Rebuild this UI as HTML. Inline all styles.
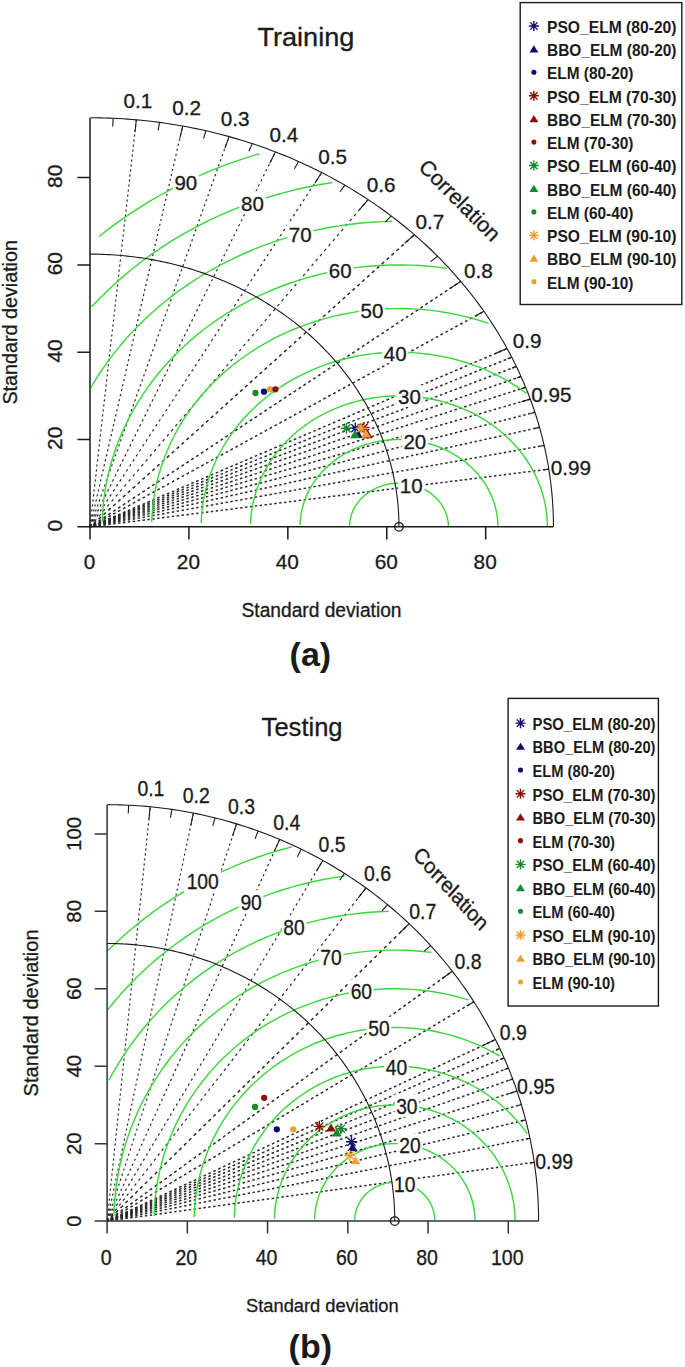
<!DOCTYPE html>
<html><head><meta charset="utf-8"><title>Taylor diagrams</title>
<style>
html,body{margin:0;padding:0;background:#fff;}
body{width:685px;height:1367px;overflow:hidden;}
svg{display:block;font-family:"Liberation Sans", sans-serif;}
text:not([font-weight]){stroke:#1a1a1a;stroke-width:0.3px;}
</style></head><body>
<svg width="685" height="1367" viewBox="0 0 685 1367" fill="#1a1a1a">
<path d="M90 526.85L136.34 119.81" stroke="#2a2a2a" stroke-width="1.2" stroke-dasharray="2.11 2.92" stroke-dashoffset="4.63" fill="none"/>
<path d="M90 526.85L182.69 126.02" stroke="#2a2a2a" stroke-width="1.2" stroke-dasharray="2.16 2.98" stroke-dashoffset="4.72" fill="none"/>
<path d="M90 526.85L229.03 136.6" stroke="#2a2a2a" stroke-width="1.2" stroke-dasharray="2.23 3.08" stroke-dashoffset="4.88" fill="none"/>
<path d="M90 526.85L275.38 151.91" stroke="#2a2a2a" stroke-width="1.2" stroke-dasharray="2.34 3.24" stroke-dashoffset="5.13" fill="none"/>
<path d="M90 526.85L321.72 172.56" stroke="#2a2a2a" stroke-width="1.2" stroke-dasharray="2.51 3.47" stroke-dashoffset="5.5" fill="none"/>
<path d="M90 526.85L368.06 199.57" stroke="#2a2a2a" stroke-width="1.2" stroke-dasharray="2.76 3.81" stroke-dashoffset="6.04" fill="none"/>
<path d="M90 526.85L414.41 234.7" stroke="#2a2a2a" stroke-width="1.5" stroke-dasharray="3.23 3.34" stroke-dashoffset="1.61" fill="none"/>
<path d="M90 526.85L460.75 281.39" stroke="#2a2a2a" stroke-width="1.5" stroke-dasharray="2.88 2.97" stroke-dashoffset="1.44" fill="none"/>
<path d="M90 526.85L507.1 348.53" stroke="#2a2a2a" stroke-width="1.5" stroke-dasharray="2.61 2.7" stroke-dashoffset="1.31" fill="none"/>
<path d="M90 526.85L483.92 311.35" stroke="#2a2a2a" stroke-width="1.5" stroke-dasharray="2.74 2.83" stroke-dashoffset="1.37" fill="none"/>
<path d="M90 526.85L511.73 357.24" stroke="#2a2a2a" stroke-width="1.5" stroke-dasharray="2.59 2.67" stroke-dashoffset="1.29" fill="none"/>
<path d="M90 526.85L516.36 366.52" stroke="#2a2a2a" stroke-width="1.5" stroke-dasharray="2.56 2.65" stroke-dashoffset="1.28" fill="none"/>
<path d="M90 526.85L521 376.48" stroke="#2a2a2a" stroke-width="1.5" stroke-dasharray="2.54 2.63" stroke-dashoffset="1.27" fill="none"/>
<path d="M90 526.85L525.63 387.28" stroke="#2a2a2a" stroke-width="1.5" stroke-dasharray="2.52 2.6" stroke-dashoffset="1.26" fill="none"/>
<path d="M90 526.85L530.27 399.11" stroke="#2a2a2a" stroke-width="1.5" stroke-dasharray="2.5 2.58" stroke-dashoffset="1.25" fill="none"/>
<path d="M90 526.85L534.9 412.3" stroke="#2a2a2a" stroke-width="1.5" stroke-dasharray="2.48 2.56" stroke-dashoffset="1.24" fill="none"/>
<path d="M90 526.85L539.54 427.4" stroke="#2a2a2a" stroke-width="1.5" stroke-dasharray="2.46 2.54" stroke-dashoffset="1.23" fill="none"/>
<path d="M90 526.85L544.17 445.44" stroke="#2a2a2a" stroke-width="1.5" stroke-dasharray="2.44 2.52" stroke-dashoffset="1.22" fill="none"/>
<path d="M90 526.85L548.81 469.14" stroke="#2a2a2a" stroke-width="1.5" stroke-dasharray="2.42 2.5" stroke-dashoffset="1.21" fill="none"/>
<path d="M448.44 526.85 L448.41 525.54 L448.35 524.23 L448.24 522.93 L448.08 521.62 L447.88 520.33 L447.64 519.03 L447.35 517.75 L447.02 516.47 L446.64 515.2 L446.23 513.95 L445.77 512.7 L445.27 511.47 L444.72 510.25 L444.14 509.05 L443.51 507.86 L442.85 506.69 L442.14 505.54 L441.4 504.4 L440.62 503.29 L439.8 502.2 L438.94 501.13 L438.05 500.08 L437.12 499.06 L436.16 498.06 L435.17 497.09 L434.14 496.14 L433.08 495.23 L431.99 494.34 L430.87 493.48 L429.72 492.65 L428.55 491.85 L427.34 491.08 L426.11 490.35 L424.86 489.65 L423.59 488.98 L422.29 488.34 L420.97 487.74 L419.63 487.18 L418.27 486.65 L416.9 486.16 L415.51 485.7 L414.1 485.28 L412.68 484.9 L411.25 484.56 L409.81 484.25 L408.36 483.98 L406.9 483.75 L405.43 483.56 L403.95 483.41 L402.48 483.3 L400.99 483.23 L399.51 483.19 L398.03 483.2 L396.54 483.24 L395.06 483.33 L393.59 483.45 L392.11 483.61 L390.65 483.81 L389.19 484.05 L387.74 484.33 L386.3 484.65 L384.87 485 L383.46 485.4 L382.05 485.83 L380.67 486.29 L379.3 486.79 L377.95 487.33 L376.61 487.91 L375.3 488.52 L374.01 489.16 L372.74 489.84 L371.49 490.55 L370.27 491.3 L369.08 492.07 L367.91 492.88 L366.77 493.72 L365.66 494.59 L364.57 495.48 L363.52 496.41 L362.51 497.36 L361.52 498.34 L360.57 499.34 L359.65 500.37 L358.77 501.43 L357.92 502.5 L357.11 503.6 L356.34 504.72 L355.61 505.86 L354.92 507.02 L354.26 508.19 L353.65 509.38 L353.07 510.59 L352.54 511.81 L352.05 513.05 L351.6 514.3 L351.2 515.56 L350.84 516.83 L350.52 518.11 L350.24 519.39 L350.01 520.69 L349.82 521.99 L349.68 523.29 L349.58 524.6 L349.53 525.91" stroke="#38d838" stroke-width="1.4" fill="none"/>
<path d="M497.9 526.85 L497.85 524.23 L497.72 521.61 L497.5 519 L497.19 516.4 L496.79 513.8 L496.3 511.22 L495.72 508.65 L495.06 506.09 L494.31 503.56 L493.48 501.05 L492.56 498.55 L491.56 496.09 L490.47 493.65 L489.3 491.24 L488.05 488.87 L486.72 486.53 L485.31 484.22 L483.82 481.96 L482.26 479.73 L480.62 477.55 L478.91 475.41 L477.12 473.31 L475.27 471.27 L473.35 469.27 L471.36 467.33 L469.3 465.44 L467.18 463.61 L465 461.83 L462.76 460.11 L460.47 458.45 L458.11 456.85 L455.71 455.32 L453.25 453.85 L450.75 452.44 L448.2 451.11 L445.6 449.84 L442.96 448.64 L440.29 447.51 L437.57 446.45 L434.82 445.46 L432.04 444.55 L429.23 443.71 L426.39 442.95 L423.53 442.26 L420.64 441.65 L417.74 441.11 L414.81 440.66 L411.88 440.28 L408.93 439.97 L405.97 439.75 L403.01 439.6 L400.04 439.54 L397.08 439.55 L394.11 439.64 L391.15 439.8 L388.2 440.05 L385.25 440.37 L382.32 440.78 L379.4 441.26 L376.5 441.81 L373.62 442.45 L370.77 443.16 L367.93 443.94 L365.13 444.8 L362.36 445.73 L359.62 446.74 L356.91 447.82 L354.25 448.97 L351.62 450.19 L349.04 451.47 L346.5 452.83 L344.01 454.25 L341.56 455.74 L339.17 457.29 L336.84 458.91 L334.56 460.58 L332.33 462.32 L330.17 464.11 L328.07 465.96 L326.03 467.87 L324.06 469.83 L322.16 471.84 L320.32 473.89 L318.56 476 L316.87 478.15 L315.25 480.35 L313.71 482.59 L312.24 484.86 L310.85 487.18 L309.55 489.53 L308.32 491.92 L307.17 494.33 L306.11 496.78 L305.13 499.25 L304.23 501.75 L303.42 504.27 L302.7 506.81 L302.06 509.37 L301.51 511.94 L301.05 514.53 L300.67 517.13 L300.39 519.73 L300.19 522.35 L300.08 524.96" stroke="#38d838" stroke-width="1.4" fill="none"/>
<path d="M547.36 526.85 L547.29 522.92 L547.09 519 L546.76 515.08 L546.29 511.17 L545.69 507.28 L544.96 503.4 L544.1 499.55 L543.1 495.72 L541.98 491.91 L540.73 488.14 L539.35 484.41 L537.84 480.71 L536.21 477.05 L534.46 473.44 L532.58 469.88 L530.59 466.37 L528.47 462.91 L526.24 459.51 L523.9 456.17 L521.44 452.89 L518.87 449.68 L516.2 446.54 L513.41 443.48 L510.53 440.48 L507.54 437.57 L504.46 434.73 L501.28 431.98 L498.01 429.32 L494.66 426.74 L491.21 424.25 L487.68 421.85 L484.08 419.55 L480.39 417.35 L476.63 415.24 L472.81 413.23 L468.91 411.33 L464.96 409.53 L460.94 407.84 L456.87 406.25 L452.74 404.77 L448.57 403.4 L444.35 402.15 L440.1 401 L435.8 399.97 L431.47 399.05 L427.12 398.25 L422.73 397.56 L418.33 396.99 L413.91 396.53 L409.47 396.2 L405.03 395.98 L400.58 395.88 L396.13 395.89 L391.68 396.03 L387.24 396.28 L382.81 396.65 L378.39 397.14 L373.99 397.74 L369.61 398.46 L365.26 399.3 L360.95 400.25 L356.66 401.31 L352.41 402.49 L348.21 403.78 L344.05 405.17 L339.94 406.68 L335.88 408.3 L331.88 410.03 L327.94 411.85 L324.07 413.79 L320.26 415.82 L316.52 417.96 L312.86 420.19 L309.27 422.52 L305.77 424.94 L302.35 427.45 L299.01 430.06 L295.77 432.75 L292.62 435.52 L289.56 438.38 L286.61 441.31 L283.75 444.33 L281 447.42 L278.35 450.58 L275.81 453.8 L273.39 457.1 L271.07 460.46 L268.87 463.87 L266.79 467.35 L264.83 470.87 L262.99 474.45 L261.27 478.07 L259.67 481.74 L258.2 485.45 L256.86 489.2 L255.64 492.98 L254.56 496.79 L253.6 500.62 L252.78 504.48 L252.08 508.37 L251.52 512.26 L251.09 516.17 L250.79 520.1 L250.63 524.02" stroke="#38d838" stroke-width="1.4" fill="none"/>
<path d="M526.55 393.37 L521.96 390.05 L517.25 386.86 L512.44 383.79 L507.53 380.85 L502.52 378.04 L497.42 375.36 L492.22 372.82 L486.95 370.43 L481.59 368.17 L476.16 366.05 L470.67 364.08 L465.1 362.25 L459.48 360.58 L453.8 359.05 L448.08 357.67 L442.3 356.45 L436.5 355.38 L430.65 354.46 L424.78 353.7 L418.88 353.1 L412.97 352.65 L407.05 352.36 L401.11 352.22 L395.18 352.24 L389.25 352.42 L383.32 352.76 L377.41 353.25 L371.53 353.9 L365.66 354.7 L359.83 355.66 L354.03 356.78 L348.27 358.04 L342.55 359.46 L336.89 361.03 L331.29 362.75 L325.74 364.62 L320.26 366.63 L314.85 368.78 L309.52 371.08 L304.27 373.52 L299.1 376.1 L294.02 378.81 L289.04 381.66 L284.15 384.63 L279.37 387.74 L274.7 390.97 L270.14 394.32 L265.69 397.79 L261.37 401.38 L257.16 405.08 L253.09 408.89 L249.15 412.8 L245.34 416.82 L241.67 420.94 L238.14 425.15 L234.76 429.46 L231.52 433.85 L228.44 438.32 L225.51 442.88 L222.73 447.51 L220.11 452.21 L217.66 456.98 L215.37 461.81 L213.24 466.71 L211.28 471.65 L209.49 476.64 L207.87 481.68 L206.42 486.77 L205.14 491.88 L204.04 497.03 L203.12 502.2 L202.37 507.4 L201.79 512.62 L201.4 517.84 L201.18 523.08" stroke="#38d838" stroke-width="1.4" fill="none"/>
<path d="M488.59 323.39 L481.63 321.1 L474.61 319.01 L467.51 317.1 L460.35 315.38 L453.14 313.85 L445.87 312.51 L438.57 311.37 L431.23 310.41 L423.86 309.66 L416.47 309.1 L409.06 308.73 L401.65 308.56 L394.23 308.59 L386.81 308.81 L379.41 309.23 L372.02 309.85 L364.66 310.66 L357.33 311.67 L350.04 312.87 L342.79 314.26 L335.59 315.84 L328.45 317.62 L321.37 319.58 L314.36 321.73 L307.43 324.06 L300.58 326.57 L293.82 329.27 L287.15 332.14 L280.59 335.19 L274.13 338.41 L267.78 341.8 L261.55 345.36 L255.45 349.08 L249.47 352.96 L243.63 357 L237.93 361.19 L232.37 365.53 L226.96 370.01 L221.71 374.63 L216.62 379.4 L211.69 384.29 L206.93 389.31 L202.34 394.46 L197.93 399.73 L193.7 405.11 L189.66 410.6 L185.8 416.19 L182.14 421.89 L178.67 427.68 L175.4 433.55 L172.33 439.51 L169.46 445.56 L166.81 451.67 L164.35 457.85 L162.12 464.09 L160.09 470.39 L158.28 476.74 L156.68 483.14 L155.31 489.57 L154.15 496.04 L153.21 502.54 L152.5 509.06 L152.01 515.59 L151.73 522.14" stroke="#38d838" stroke-width="1.4" fill="none"/>
<path d="M446.49 268.27 L437.68 267.13 L428.84 266.22 L419.97 265.55 L411.08 265.11 L402.18 264.91 L393.28 264.94 L384.38 265.21 L375.5 265.71 L366.63 266.45 L357.8 267.42 L349 268.63 L340.25 270.07 L331.55 271.74 L322.91 273.64 L314.34 275.77 L305.85 278.12 L297.44 280.7 L289.12 283.5 L280.9 286.52 L272.79 289.75 L264.79 293.2 L256.91 296.86 L249.16 300.72 L241.54 304.79 L234.07 309.06 L226.74 313.53 L219.57 318.18 L212.56 323.03 L205.72 328.05 L199.05 333.26 L192.56 338.64 L186.26 344.19 L180.15 349.91 L174.23 355.78 L168.52 361.81 L163.02 367.98 L157.72 374.3 L152.65 380.76 L147.8 387.35 L143.17 394.06 L138.77 400.89 L134.61 407.84 L130.68 414.89 L127 422.05 L123.56 429.3 L120.37 436.63 L117.43 444.05 L114.74 451.54 L112.31 459.1 L110.14 466.72 L108.23 474.4 L106.57 482.12 L105.19 489.88 L104.06 497.68 L103.2 505.5 L102.61 513.34 L102.29 521.19" stroke="#38d838" stroke-width="1.4" fill="none"/>
<path d="M392.33 221.29 L381.95 221.6 L371.58 222.19 L361.24 223.05 L350.94 224.19 L340.67 225.59 L330.46 227.27 L320.31 229.22 L310.24 231.44 L300.24 233.92 L290.33 236.67 L280.52 239.68 L270.81 242.94 L261.22 246.46 L251.76 250.24 L242.42 254.26 L233.23 258.53 L224.19 263.04 L215.3 267.78 L206.58 272.76 L198.04 277.97 L189.67 283.4 L181.49 289.06 L173.51 294.92 L165.73 301 L158.16 307.27 L150.81 313.75 L143.68 320.41 L136.78 327.27 L130.11 334.3 L123.69 341.51 L117.52 348.88 L111.6 356.41 L105.93 364.1 L100.53 371.93 L95.4 379.9 L90.55 388.01" stroke="#38d838" stroke-width="1.4" fill="none"/>
<path d="M332.35 182.56 L320.68 184.48 L309.08 186.7 L297.56 189.24 L286.13 192.08 L274.81 195.21 L263.59 198.65 L252.5 202.38 L241.54 206.41 L230.73 210.72 L220.06 215.32 L209.55 220.19 L199.22 225.35 L189.06 230.77 L179.1 236.46 L169.33 242.42 L159.77 248.63 L150.42 255.08 L141.3 261.79 L132.41 268.73 L123.76 275.9 L115.35 283.3 L107.2 290.92 L99.32 298.76 L91.7 306.79" stroke="#38d838" stroke-width="1.4" fill="none"/>
<path d="M259.29 153.76 L246.67 157.63 L234.19 161.82 L221.86 166.35 L209.69 171.2 L197.69 176.38 L185.88 181.86 L174.25 187.66 L162.82 193.76 L151.61 200.17 L140.62 206.86 L129.87 213.85 L119.35 221.11 L109.09 228.66 L99.09 236.47" stroke="#38d838" stroke-width="1.4" fill="none"/>
<rect x="398.14" y="473.7" width="26.22" height="21.71" fill="#fff"/>
<text x="0" y="0" font-size="20.5" text-anchor="middle" transform="translate(411.25 492.83)">10</text>
<rect x="401.71" y="429.8" width="26.22" height="21.71" fill="#fff"/>
<text x="0" y="0" font-size="20.5" text-anchor="middle" transform="translate(414.81 448.93)">20</text>
<rect x="396.36" y="385.34" width="26.22" height="21.71" fill="#fff"/>
<text x="0" y="0" font-size="20.5" text-anchor="middle" transform="translate(409.47 404.48)">30</text>
<rect x="382.07" y="341.39" width="26.22" height="21.71" fill="#fff"/>
<text x="0" y="0" font-size="20.5" text-anchor="middle" transform="translate(395.18 360.52)">40</text>
<rect x="358.92" y="298.99" width="26.22" height="21.71" fill="#fff"/>
<text x="0" y="0" font-size="20.5" text-anchor="middle" transform="translate(372.02 318.13)">50</text>
<rect x="327.14" y="259.21" width="26.22" height="21.71" fill="#fff"/>
<text x="0" y="0" font-size="20.5" text-anchor="middle" transform="translate(340.25 278.35)">60</text>
<rect x="287.13" y="223.07" width="26.22" height="21.71" fill="#fff"/>
<text x="0" y="0" font-size="20.5" text-anchor="middle" transform="translate(300.24 242.2)">70</text>
<rect x="239.4" y="191.53" width="26.22" height="21.71" fill="#fff"/>
<text x="0" y="0" font-size="20.5" text-anchor="middle" transform="translate(252.5 210.66)">80</text>
<rect x="172.77" y="171.01" width="26.22" height="21.71" fill="#fff"/>
<text x="0" y="0" font-size="20.5" text-anchor="middle" transform="translate(185.88 190.14)">90</text>
<path d="M90 117.76L90 526.85L553.44 526.85" stroke="#1a1a1a" stroke-width="1.5" fill="none"/>
<path d="M90 526.85L90 539.45M90 526.85L77.4 526.85M188.92 526.85L188.92 539.45M90 439.53L77.4 439.53M287.84 526.85L287.84 539.45M90 352.21L77.4 352.21M386.76 526.85L386.76 539.45M90 264.89L77.4 264.89M485.68 526.85L485.68 539.45M90 177.57L77.4 177.57" stroke="#1a1a1a" stroke-width="1.5" fill="none"/>
<text x="0" y="0" font-size="20.8" text-anchor="middle" transform="translate(89.5 569.4)">0</text>
<text x="0" y="0" font-size="20.8" text-anchor="middle" transform="translate(61.6 525.65) rotate(-90)">0</text>
<text x="0" y="0" font-size="20.8" text-anchor="middle" transform="translate(188.42 569.4)">20</text>
<text x="0" y="0" font-size="20.8" text-anchor="middle" transform="translate(61.6 438.33) rotate(-90)">20</text>
<text x="0" y="0" font-size="20.8" text-anchor="middle" transform="translate(287.34 569.4)">40</text>
<text x="0" y="0" font-size="20.8" text-anchor="middle" transform="translate(61.6 351.01) rotate(-90)">40</text>
<text x="0" y="0" font-size="20.8" text-anchor="middle" transform="translate(386.26 569.4)">60</text>
<text x="0" y="0" font-size="20.8" text-anchor="middle" transform="translate(61.6 263.69) rotate(-90)">60</text>
<text x="0" y="0" font-size="20.8" text-anchor="middle" transform="translate(485.18 569.4)">80</text>
<text x="0" y="0" font-size="20.8" text-anchor="middle" transform="translate(61.6 176.37) rotate(-90)">80</text>
<path d="M553.44 526.85 L553.42 522.76 L553.35 518.67 L553.23 514.58 L553.07 510.49 L552.86 506.4 L552.61 502.32 L552.31 498.24 L551.96 494.16 L551.56 490.08 L551.12 486.01 L550.64 481.94 L550.11 477.88 L549.53 473.82 L548.91 469.76 L548.24 465.72 L547.52 461.67 L546.76 457.64 L545.95 453.61 L545.1 449.59 L544.2 445.58 L543.26 441.57 L542.27 437.57 L541.24 433.59 L540.16 429.61 L539.03 425.64 L537.86 421.68 L536.65 417.73 L535.39 413.79 L534.09 409.87 L532.74 405.95 L531.35 402.05 L529.91 398.16 L528.43 394.29 L526.91 390.42 L525.34 386.57 L523.73 382.74 L522.08 378.92 L520.38 375.11 L518.64 371.32 L516.86 367.54 L515.03 363.78 L513.16 360.04 L511.25 356.31 L509.3 352.6 L507.3 348.91 L505.27 345.23 L503.19 341.58 L501.07 337.94 L498.91 334.32 L496.71 330.72 L494.46 327.14 L492.18 323.58 L489.86 320.04 L487.5 316.52 L485.09 313.02 L482.65 309.54 L480.17 306.09 L477.65 302.66 L475.09 299.25 L472.49 295.86 L469.86 292.49 L467.18 289.15 L464.47 285.83 L461.72 282.54 L458.94 279.27 L456.11 276.03 L453.25 272.81 L450.36 269.61 L447.43 266.45 L444.46 263.3 L441.46 260.19 L438.42 257.1 L435.34 254.04 L432.24 251 L429.09 248 L425.92 245.02 L422.71 242.07 L419.47 239.14 L416.19 236.25 L412.88 233.38 L409.54 230.55 L406.17 227.74 L402.76 224.97 L399.33 222.22 L395.86 219.51 L392.37 216.82 L388.84 214.17 L385.28 211.55 L381.69 208.95 L378.08 206.4 L374.43 203.87 L370.76 201.37 L367.06 198.91 L363.33 196.48 L359.58 194.09 L355.79 191.72 L351.98 189.39 L348.15 187.1 L344.28 184.84 L340.4 182.61 L336.49 180.42 L332.55 178.26 L328.59 176.13 L324.6 174.05 L320.59 171.99 L316.56 169.97 L312.51 167.99 L308.43 166.05 L304.33 164.14 L300.21 162.26 L296.07 160.42 L291.91 158.62 L287.73 156.86 L283.53 155.13 L279.31 153.44 L275.07 151.79 L270.81 150.18 L266.54 148.6 L262.24 147.06 L257.93 145.56 L253.6 144.09 L249.26 142.67 L244.9 141.28 L240.52 139.94 L236.13 138.63 L231.73 137.36 L227.31 136.12 L222.88 134.93 L218.43 133.78 L213.97 132.66 L209.5 131.59 L205.01 130.55 L200.52 129.56 L196.01 128.6 L191.5 127.69 L186.97 126.81 L182.43 125.98 L177.89 125.18 L173.33 124.42 L168.77 123.71 L164.2 123.03 L159.62 122.4 L155.04 121.8 L150.44 121.25 L145.85 120.74 L141.24 120.26 L136.63 119.83 L132.02 119.44 L127.4 119.09 L122.78 118.78 L118.16 118.51 L113.53 118.28 L108.9 118.1 L104.27 117.95 L99.64 117.84 L95 117.78 L90.37 117.76" stroke="#1a1a1a" stroke-width="1.1" fill="none"/>
<path d="M398.98 526.85 L398.96 524.12 L398.91 521.4 L398.84 518.67 L398.73 515.94 L398.59 513.22 L398.42 510.5 L398.22 507.77 L397.99 505.05 L397.73 502.34 L397.43 499.62 L397.11 496.91 L396.75 494.2 L396.37 491.49 L395.95 488.79 L395.51 486.09 L395.03 483.4 L394.52 480.71 L393.98 478.02 L393.42 475.34 L392.82 472.66 L392.19 469.99 L391.53 467.33 L390.84 464.67 L390.12 462.02 L389.37 459.37 L388.59 456.73 L387.78 454.1 L386.94 451.48 L386.07 448.86 L385.18 446.25 L384.25 443.65 L383.29 441.05 L382.3 438.47 L381.29 435.89 L380.24 433.33 L379.17 430.77 L378.07 428.22 L376.94 425.68 L375.78 423.16 L374.59 420.64 L373.37 418.13 L372.12 415.64 L370.85 413.15 L369.55 410.68 L368.22 408.22 L366.86 405.77 L365.47 403.33 L364.06 400.9 L362.62 398.49 L361.15 396.09 L359.66 393.7 L358.14 391.33 L356.59 388.97 L355.01 386.62 L353.41 384.29 L351.78 381.97 L350.13 379.67 L348.45 377.38 L346.74 375.11 L345.01 372.85 L343.25 370.6 L341.47 368.38 L339.66 366.16 L337.83 363.97 L335.97 361.79 L334.09 359.63 L332.18 357.48 L330.25 355.35 L328.3 353.24 L326.32 351.14 L324.32 349.07 L322.29 347.01 L320.24 344.97 L318.17 342.94 L316.07 340.94 L313.96 338.95 L311.82 336.98 L309.66 335.03 L307.47 333.11 L305.27 331.2 L303.04 329.31 L300.79 327.43 L298.52 325.58 L296.23 323.75 L293.92 321.94 L291.59 320.15 L289.24 318.38 L286.86 316.64 L284.47 314.91 L282.06 313.2 L279.63 311.52 L277.18 309.85 L274.72 308.21 L272.23 306.59 L269.73 305 L267.2 303.42 L264.66 301.87 L262.11 300.34 L259.53 298.83 L256.94 297.34 L254.33 295.88 L251.71 294.44 L249.07 293.03 L246.41 291.63 L243.74 290.27 L241.05 288.92 L238.35 287.6 L235.63 286.3 L232.9 285.03 L230.15 283.78 L227.39 282.55 L224.62 281.35 L221.83 280.18 L219.03 279.03 L216.21 277.9 L213.39 276.8 L210.55 275.72 L207.7 274.67 L204.83 273.64 L201.96 272.64 L199.07 271.67 L196.18 270.72 L193.27 269.79 L190.35 268.89 L187.43 268.02 L184.49 267.17 L181.54 266.35 L178.59 265.56 L175.62 264.79 L172.65 264.05 L169.67 263.33 L166.68 262.64 L163.68 261.98 L160.68 261.34 L157.67 260.73 L154.65 260.14 L151.63 259.59 L148.59 259.06 L145.56 258.55 L142.52 258.07 L139.47 257.62 L136.42 257.2 L133.36 256.8 L130.3 256.44 L127.23 256.09 L124.16 255.78 L121.09 255.49 L118.02 255.23 L114.94 255 L111.86 254.79 L108.77 254.61 L105.69 254.46 L102.6 254.33 L99.51 254.24 L96.43 254.16 L93.34 254.12 L90.25 254.11 L90 254.11" stroke="#1a1a1a" stroke-width="1.1" fill="none"/>
<path d="M136.34 119.81L134.95 132.02M182.69 126.02L179.91 138.05M229.03 136.6L224.86 148.31M275.38 151.91L269.81 163.16M321.72 172.56L314.77 183.19M368.06 199.57L359.72 209.39M414.41 234.7L404.68 243.46M460.75 281.39L449.63 288.76M507.1 348.53L494.58 353.88M113.17 118.27L112.71 126.44M159.52 122.38L158.13 130.47M205.86 130.75L203.54 138.67M252.2 143.63L248.96 151.3M298.55 161.52L294.38 168.82M344.89 185.19L339.79 192.02M391.24 215.97L385.21 222.18M437.58 256.26L430.63 261.67M483.92 311.35L476.05 315.66M530.27 399.11L521.46 401.67M511.73 357.24L507.51 358.93M516.36 366.52L512.1 368.12M521 376.48L516.69 377.99M525.63 387.28L521.28 388.67M530.27 399.11L525.87 400.39M534.9 412.3L530.45 413.45M539.54 427.4L535.04 428.39M544.17 445.44L539.63 446.26M548.81 469.14L544.22 469.72" stroke="#1a1a1a" stroke-width="1.1" fill="none"/>
<circle cx="398.98" cy="526.85" r="4.3" stroke="#1a1a1a" stroke-width="1.3" fill="none"/>
<text x="0" y="0" font-size="20.7" text-anchor="middle" transform="translate(137.86 108.3)">0.1</text>
<text x="0" y="0" font-size="20.7" text-anchor="middle" transform="translate(186.52 114.83)">0.2</text>
<text x="0" y="0" font-size="20.7" text-anchor="middle" transform="translate(235.18 125.93)">0.3</text>
<text x="0" y="0" font-size="20.7" text-anchor="middle" transform="translate(283.84 142.01)">0.4</text>
<text x="0" y="0" font-size="20.7" text-anchor="middle" transform="translate(332.51 163.7)">0.5</text>
<text x="0" y="0" font-size="20.7" text-anchor="middle" transform="translate(381.17 192.06)">0.6</text>
<text x="0" y="0" font-size="20.7" text-anchor="middle" transform="translate(429.83 228.94)">0.7</text>
<text x="0" y="0" font-size="20.7" text-anchor="middle" transform="translate(478.49 277.97)">0.8</text>
<text x="0" y="0" font-size="20.7" text-anchor="middle" transform="translate(527.15 348.46)">0.9</text>
<text x="0" y="0" font-size="20.7" text-anchor="middle" transform="translate(551.48 401.57)">0.95</text>
<text x="0" y="0" font-size="20.7" text-anchor="middle" transform="translate(570.95 475.1)">0.99</text>
<text x="0" y="0" font-size="21.5" text-anchor="middle" transform="translate(459.55 200.57) rotate(45)" dominant-baseline="central">Correlation</text>
<circle cx="255.5" cy="393" r="3.15" fill="#178a2c"/>
<circle cx="264" cy="391.7" r="3.15" fill="#0b0b72"/>
<circle cx="270" cy="389.3" r="3.15" fill="#f0a032"/>
<circle cx="275.4" cy="389.3" r="3.15" fill="#8b1000"/>
<path d="M358.44 427.5L369.56 427.5M364 421.94L364 433.06M359.99 423.49L368.01 431.51M359.99 431.51L368.01 423.49" stroke="#8b1000" stroke-width="1.4" fill="none"/>
<path d="M349.74 428.2L360.87 428.2M355.3 422.63L355.3 433.76M351.29 424.19L359.31 432.21M351.29 432.21L359.31 424.19" stroke="#0b0b72" stroke-width="1.4" fill="none"/>
<path d="M358 430.01L362.94 437.99L353.06 437.99Z" fill="#0b0b72"/>
<path d="M355 430.31L359.94 438.29L350.06 438.29Z" fill="#178a2c"/>
<path d="M340.83 428.2L351.96 428.2M346.4 422.63L346.4 433.76M342.39 424.19L350.41 432.21M342.39 432.21L350.41 424.19" stroke="#178a2c" stroke-width="1.4" fill="none"/>
<path d="M367.9 430.31L372.83 438.29L362.96 438.29Z" fill="#8b1000"/>
<path d="M366 429.61L370.94 437.59L361.06 437.59Z" fill="#f0a032"/>
<path d="M355.44 428.2L366.56 428.2M361 422.63L361 433.76M356.99 424.19L365.01 432.21M356.99 432.21L365.01 424.19" stroke="#f0a032" stroke-width="1.4" fill="none"/>
<path d="M107.1 1221.1L150.25 806.75" stroke="#2a2a2a" stroke-width="1.2" stroke-dasharray="2.11 2.92" stroke-dashoffset="4.62" fill="none"/>
<path d="M107.1 1221.1L193.4 813.08" stroke="#2a2a2a" stroke-width="1.2" stroke-dasharray="2.15 2.96" stroke-dashoffset="4.7" fill="none"/>
<path d="M107.1 1221.1L236.55 823.85" stroke="#2a2a2a" stroke-width="1.2" stroke-dasharray="2.21 3.05" stroke-dashoffset="4.84" fill="none"/>
<path d="M107.1 1221.1L279.7 839.43" stroke="#2a2a2a" stroke-width="1.2" stroke-dasharray="2.3 3.18" stroke-dashoffset="5.05" fill="none"/>
<path d="M107.1 1221.1L322.85 860.46" stroke="#2a2a2a" stroke-width="1.2" stroke-dasharray="2.45 3.38" stroke-dashoffset="5.36" fill="none"/>
<path d="M107.1 1221.1L365.99 887.95" stroke="#2a2a2a" stroke-width="1.2" stroke-dasharray="2.66 3.67" stroke-dashoffset="5.83" fill="none"/>
<path d="M107.1 1221.1L409.14 923.71" stroke="#2a2a2a" stroke-width="1.5" stroke-dasharray="3.37 3.48" stroke-dashoffset="1.68" fill="none"/>
<path d="M107.1 1221.1L452.29 971.24" stroke="#2a2a2a" stroke-width="1.5" stroke-dasharray="2.96 3.06" stroke-dashoffset="1.48" fill="none"/>
<path d="M107.1 1221.1L495.44 1039.58" stroke="#2a2a2a" stroke-width="1.5" stroke-dasharray="2.65 2.74" stroke-dashoffset="1.32" fill="none"/>
<path d="M107.1 1221.1L473.87 1001.73" stroke="#2a2a2a" stroke-width="1.5" stroke-dasharray="2.8 2.89" stroke-dashoffset="1.4" fill="none"/>
<path d="M107.1 1221.1L499.76 1048.44" stroke="#2a2a2a" stroke-width="1.5" stroke-dasharray="2.62 2.71" stroke-dashoffset="1.31" fill="none"/>
<path d="M107.1 1221.1L504.07 1057.89" stroke="#2a2a2a" stroke-width="1.5" stroke-dasharray="2.59 2.68" stroke-dashoffset="1.3" fill="none"/>
<path d="M107.1 1221.1L508.39 1068.04" stroke="#2a2a2a" stroke-width="1.5" stroke-dasharray="2.57 2.65" stroke-dashoffset="1.28" fill="none"/>
<path d="M107.1 1221.1L512.7 1079.02" stroke="#2a2a2a" stroke-width="1.5" stroke-dasharray="2.54 2.63" stroke-dashoffset="1.27" fill="none"/>
<path d="M107.1 1221.1L517.02 1091.07" stroke="#2a2a2a" stroke-width="1.5" stroke-dasharray="2.52 2.6" stroke-dashoffset="1.26" fill="none"/>
<path d="M107.1 1221.1L521.33 1104.5" stroke="#2a2a2a" stroke-width="1.5" stroke-dasharray="2.49 2.58" stroke-dashoffset="1.25" fill="none"/>
<path d="M107.1 1221.1L525.65 1119.86" stroke="#2a2a2a" stroke-width="1.5" stroke-dasharray="2.47 2.55" stroke-dashoffset="1.23" fill="none"/>
<path d="M107.1 1221.1L529.96 1138.23" stroke="#2a2a2a" stroke-width="1.5" stroke-dasharray="2.45 2.53" stroke-dashoffset="1.22" fill="none"/>
<path d="M107.1 1221.1L534.28 1162.35" stroke="#2a2a2a" stroke-width="1.5" stroke-dasharray="2.42 2.5" stroke-dashoffset="1.21" fill="none"/>
<path d="M434.88 1221.1 L434.86 1219.94 L434.81 1218.78 L434.72 1217.62 L434.59 1216.46 L434.43 1215.31 L434.23 1214.17 L434 1213.03 L433.73 1211.9 L433.43 1210.77 L433.09 1209.66 L432.72 1208.55 L432.31 1207.46 L431.87 1206.38 L431.39 1205.31 L430.89 1204.26 L430.35 1203.22 L429.77 1202.2 L429.17 1201.19 L428.54 1200.21 L427.87 1199.24 L427.18 1198.29 L426.45 1197.36 L425.7 1196.45 L424.92 1195.57 L424.12 1194.71 L423.28 1193.87 L422.42 1193.06 L421.54 1192.27 L420.63 1191.51 L419.7 1190.77 L418.75 1190.06 L417.77 1189.38 L416.77 1188.73 L415.76 1188.11 L414.72 1187.51 L413.67 1186.95 L412.6 1186.42 L411.51 1185.92 L410.41 1185.45 L409.3 1185.01 L408.17 1184.61 L407.03 1184.24 L405.88 1183.9 L404.72 1183.59 L403.55 1183.32 L402.37 1183.08 L401.18 1182.88 L399.99 1182.71 L398.8 1182.58 L397.6 1182.48 L396.4 1182.41 L395.19 1182.38 L393.99 1182.39 L392.79 1182.43 L391.59 1182.5 L390.39 1182.61 L389.19 1182.75 L388 1182.93 L386.82 1183.15 L385.65 1183.39 L384.48 1183.67 L383.32 1183.99 L382.17 1184.34 L381.03 1184.72 L379.91 1185.13 L378.8 1185.58 L377.7 1186.05 L376.62 1186.56 L375.55 1187.11 L374.51 1187.68 L373.48 1188.28 L372.47 1188.91 L371.48 1189.57 L370.51 1190.26 L369.56 1190.97 L368.63 1191.72 L367.73 1192.49 L366.85 1193.28 L366 1194.1 L365.18 1194.95 L364.38 1195.81 L363.6 1196.71 L362.86 1197.62 L362.14 1198.55 L361.46 1199.51 L360.8 1200.48 L360.18 1201.47 L359.58 1202.48 L359.02 1203.51 L358.49 1204.55 L357.99 1205.61 L357.53 1206.68 L357.09 1207.77 L356.7 1208.86 L356.33 1209.97 L356.01 1211.09 L355.71 1212.21 L355.45 1213.35 L355.23 1214.49 L355.04 1215.64 L354.89 1216.79 L354.77 1217.94 L354.69 1219.1 L354.65 1220.26" stroke="#38d838" stroke-width="1.4" fill="none"/>
<path d="M475 1221.1 L474.96 1218.78 L474.86 1216.46 L474.68 1214.14 L474.42 1211.83 L474.1 1209.53 L473.7 1207.24 L473.24 1204.96 L472.7 1202.69 L472.09 1200.44 L471.42 1198.21 L470.67 1196.01 L469.86 1193.82 L468.98 1191.66 L468.03 1189.52 L467.01 1187.42 L465.93 1185.34 L464.79 1183.3 L463.58 1181.29 L462.31 1179.31 L460.99 1177.37 L459.6 1175.48 L458.15 1173.62 L456.65 1171.81 L455.09 1170.04 L453.47 1168.31 L451.8 1166.64 L450.09 1165.01 L448.32 1163.43 L446.5 1161.91 L444.64 1160.44 L442.73 1159.02 L440.78 1157.66 L438.79 1156.36 L436.76 1155.11 L434.69 1153.93 L432.58 1152.8 L430.44 1151.74 L428.27 1150.74 L426.07 1149.8 L423.84 1148.92 L421.58 1148.11 L419.3 1147.37 L417 1146.69 L414.67 1146.08 L412.33 1145.54 L409.98 1145.07 L407.61 1144.66 L405.23 1144.32 L402.83 1144.05 L400.44 1143.85 L398.03 1143.72 L395.63 1143.66 L393.22 1143.67 L390.81 1143.75 L388.41 1143.9 L386.02 1144.12 L383.63 1144.41 L381.25 1144.77 L378.88 1145.19 L376.53 1145.69 L374.19 1146.25 L371.88 1146.88 L369.58 1147.57 L367.31 1148.33 L365.06 1149.16 L362.83 1150.05 L360.64 1151.01 L358.48 1152.03 L356.35 1153.11 L354.25 1154.25 L352.19 1155.46 L350.17 1156.72 L348.19 1158.04 L346.25 1159.41 L344.36 1160.85 L342.51 1162.33 L340.7 1163.87 L338.95 1165.46 L337.24 1167.1 L335.59 1168.79 L333.99 1170.53 L332.45 1172.31 L330.96 1174.14 L329.53 1176 L328.16 1177.91 L326.84 1179.86 L325.59 1181.85 L324.4 1183.87 L323.28 1185.92 L322.22 1188 L321.22 1190.12 L320.29 1192.26 L319.43 1194.43 L318.63 1196.62 L317.91 1198.84 L317.25 1201.07 L316.66 1203.33 L316.15 1205.59 L315.7 1207.88 L315.32 1210.17 L315.02 1212.48 L314.79 1214.79 L314.63 1217.11 L314.54 1219.43" stroke="#38d838" stroke-width="1.4" fill="none"/>
<path d="M515.12 1221.1 L515.07 1217.62 L514.9 1214.13 L514.63 1210.66 L514.25 1207.19 L513.77 1203.74 L513.18 1200.3 L512.48 1196.89 L511.67 1193.49 L510.76 1190.12 L509.74 1186.77 L508.63 1183.46 L507.4 1180.18 L506.08 1176.94 L504.66 1173.73 L503.14 1170.57 L501.52 1167.46 L499.8 1164.39 L497.99 1161.38 L496.09 1158.42 L494.1 1155.51 L492.01 1152.66 L489.84 1149.88 L487.59 1147.16 L485.25 1144.51 L482.83 1141.92 L480.33 1139.41 L477.75 1136.97 L475.1 1134.6 L472.37 1132.32 L469.58 1130.11 L466.72 1127.98 L463.79 1125.94 L460.8 1123.99 L457.75 1122.12 L454.65 1120.34 L451.49 1118.65 L448.28 1117.06 L445.02 1115.55 L441.72 1114.15 L438.37 1112.83 L434.99 1111.62 L431.57 1110.51 L428.11 1109.49 L424.63 1108.57 L421.12 1107.76 L417.59 1107.05 L414.03 1106.44 L410.46 1105.93 L406.87 1105.53 L403.27 1105.23 L399.67 1105.04 L396.06 1104.95 L392.45 1104.96 L388.84 1105.08 L385.24 1105.3 L381.64 1105.63 L378.06 1106.06 L374.49 1106.6 L370.94 1107.24 L367.41 1107.98 L363.91 1108.82 L360.44 1109.76 L356.99 1110.81 L353.58 1111.95 L350.21 1113.19 L346.87 1114.53 L343.58 1115.96 L340.34 1117.49 L337.14 1119.12 L334 1120.83 L330.91 1122.63 L327.88 1124.53 L324.91 1126.51 L322 1128.57 L319.15 1130.72 L316.38 1132.95 L313.67 1135.26 L311.04 1137.64 L308.49 1140.1 L306.01 1142.64 L303.61 1145.24 L301.29 1147.92 L299.06 1150.65 L296.91 1153.46 L294.86 1156.32 L292.89 1159.24 L291.01 1162.22 L289.23 1165.25 L287.54 1168.33 L285.95 1171.46 L284.45 1174.63 L283.06 1177.84 L281.76 1181.1 L280.57 1184.38 L279.48 1187.71 L278.5 1191.06 L277.61 1194.44 L276.84 1197.84 L276.17 1201.27 L275.6 1204.71 L275.15 1208.16 L274.8 1211.63 L274.56 1215.11 L274.43 1218.59" stroke="#38d838" stroke-width="1.4" fill="none"/>
<path d="M527.21 1133.65 L524.43 1129.85 L521.54 1126.14 L518.53 1122.51 L515.41 1118.97 L512.18 1115.53 L508.85 1112.18 L505.41 1108.92 L501.87 1105.77 L498.24 1102.72 L494.52 1099.78 L490.7 1096.95 L486.8 1094.22 L482.81 1091.62 L478.75 1089.13 L474.61 1086.75 L470.4 1084.5 L466.12 1082.37 L461.78 1080.37 L457.37 1078.49 L452.91 1076.75 L448.4 1075.13 L443.84 1073.64 L439.23 1072.29 L434.59 1071.07 L429.91 1069.98 L425.19 1069.03 L420.45 1068.22 L415.69 1067.54 L410.91 1067.01 L406.11 1066.61 L401.31 1066.35 L396.49 1066.23 L391.68 1066.25 L386.87 1066.41 L382.06 1066.71 L377.27 1067.14 L372.49 1067.72 L367.74 1068.43 L363 1069.28 L358.3 1070.27 L353.63 1071.39 L348.99 1072.65 L344.4 1074.04 L339.85 1075.57 L335.35 1077.22 L330.91 1079.01 L326.52 1080.92 L322.2 1082.96 L317.93 1085.12 L313.74 1087.41 L309.62 1089.81 L305.58 1092.34 L301.62 1094.97 L297.74 1097.73 L293.95 1100.59 L290.25 1103.56 L286.65 1106.64 L283.14 1109.82 L279.73 1113.11 L276.42 1116.48 L273.23 1119.96 L270.14 1123.52 L267.16 1127.17 L264.3 1130.91 L261.55 1134.73 L258.93 1138.62 L256.43 1142.59 L254.05 1146.63 L251.8 1150.74 L249.67 1154.91 L247.68 1159.14 L245.82 1163.42 L244.1 1167.76 L242.51 1172.15 L241.05 1176.58 L239.74 1181.05 L238.56 1185.55 L237.53 1190.09 L236.64 1194.65 L235.89 1199.24 L235.28 1203.85 L234.81 1208.48 L234.49 1213.11 L234.32 1217.76" stroke="#38d838" stroke-width="1.4" fill="none"/>
<path d="M499.75 1056.13 L494.57 1053.17 L489.31 1050.35 L483.96 1047.69 L478.53 1045.19 L473.02 1042.84 L467.45 1040.66 L461.81 1038.63 L456.11 1036.78 L450.35 1035.08 L444.54 1033.56 L438.69 1032.2 L432.8 1031.01 L426.88 1030 L420.92 1029.15 L414.95 1028.48 L408.95 1027.98 L402.94 1027.66 L396.93 1027.51 L390.91 1027.54 L384.89 1027.73 L378.89 1028.11 L372.9 1028.65 L366.93 1029.37 L360.98 1030.26 L355.06 1031.33 L349.18 1032.56 L343.34 1033.97 L337.55 1035.54 L331.81 1037.28 L326.13 1039.18 L320.5 1041.25 L314.95 1043.48 L309.46 1045.87 L304.05 1048.42 L298.73 1051.13 L293.49 1053.98 L288.34 1056.99 L283.29 1060.14 L278.33 1063.44 L273.49 1066.88 L268.75 1070.47 L264.12 1074.18 L259.62 1078.03 L255.23 1082.01 L250.97 1086.11 L246.84 1090.33 L242.84 1094.67 L238.98 1099.13 L235.26 1103.69 L231.68 1108.36 L228.25 1113.13 L224.97 1118 L221.84 1122.96 L218.87 1128.01 L216.06 1133.15 L213.4 1138.36 L210.91 1143.65 L208.59 1149 L206.43 1154.43 L204.44 1159.91 L202.63 1165.44 L200.98 1171.03 L199.52 1176.66 L198.22 1182.34 L197.11 1188.04 L196.17 1193.78 L195.41 1199.54 L194.83 1205.32 L194.43 1211.12 L194.21 1216.92" stroke="#38d838" stroke-width="1.4" fill="none"/>
<path d="M468.38 999.91 L461.47 997.88 L454.5 996.05 L447.48 994.42 L440.41 993 L433.3 991.78 L426.16 990.76 L418.98 989.96 L411.79 989.36 L404.58 988.97 L397.36 988.79 L390.14 988.82 L382.92 989.06 L375.71 989.51 L368.53 990.16 L361.36 991.03 L354.22 992.1 L347.12 993.37 L340.07 994.86 L333.06 996.54 L326.11 998.43 L319.22 1000.52 L312.4 1002.8 L305.65 1005.28 L298.98 1007.96 L292.4 1010.83 L285.91 1013.89 L279.52 1017.13 L273.23 1020.56 L267.06 1024.17 L260.99 1027.95 L255.05 1031.91 L249.23 1036.04 L243.55 1040.34 L238 1044.8 L232.59 1049.41 L227.32 1054.19 L222.21 1059.11 L217.25 1064.18 L212.46 1069.39 L207.82 1074.73 L203.36 1080.21 L199.07 1085.81 L194.95 1091.54 L191.01 1097.38 L187.26 1103.34 L183.69 1109.4 L180.32 1115.56 L177.13 1121.81 L174.14 1128.16 L171.35 1134.58 L168.77 1141.09 L166.38 1147.67 L164.2 1154.31 L162.23 1161.02 L160.47 1167.78 L158.92 1174.58 L157.58 1181.43 L156.45 1188.31 L155.54 1195.23 L154.84 1202.17 L154.36 1209.12 L154.1 1216.08" stroke="#38d838" stroke-width="1.4" fill="none"/>
<path d="M431.39 952.38 L423.02 951.44 L414.63 950.74 L406.21 950.29 L397.79 950.08 L389.37 950.11 L380.95 950.39 L372.54 950.91 L364.15 951.67 L355.79 952.68 L347.47 953.93 L339.19 955.42 L330.95 957.15 L322.78 959.11 L314.67 961.32 L306.63 963.75 L298.67 966.42 L290.8 969.31 L283.02 972.44 L275.34 975.78 L267.77 979.35 L260.31 983.14 L252.98 987.14 L245.77 991.35 L238.7 995.76 L231.76 1000.38 L224.98 1005.2 L218.34 1010.21 L211.87 1015.41 L205.56 1020.8 L199.42 1026.37 L193.45 1032.11 L187.67 1038.02 L182.07 1044.1 L176.67 1050.34 L171.46 1056.73 L166.45 1063.27 L161.65 1069.95 L157.06 1076.76 L152.68 1083.71 L148.51 1090.78 L144.58 1097.96 L140.86 1105.26 L137.37 1112.67 L134.12 1120.16 L131.1 1127.76 L128.32 1135.43 L125.78 1143.18 L123.47 1151 L121.42 1158.89 L119.61 1166.83 L118.04 1174.82 L116.73 1182.85 L115.67 1190.92 L114.85 1199.01 L114.29 1207.12 L113.99 1215.25" stroke="#38d838" stroke-width="1.4" fill="none"/>
<path d="M388.6 911.4 L378.97 911.71 L369.37 912.31 L359.78 913.19 L350.23 914.34 L340.71 915.76 L331.25 917.47 L321.84 919.44 L312.49 921.69 L303.23 924.2 L294.04 926.99 L284.94 930.04 L275.95 933.35 L267.06 936.91 L258.28 940.74 L249.63 944.82 L241.11 949.14 L232.72 953.71 L224.49 958.52 L216.4 963.57 L208.48 968.85 L200.72 974.36 L193.14 980.08 L185.74 986.03 L178.53 992.19 L171.51 998.55 L164.7 1005.11 L158.09 1011.87 L151.69 1018.81 L145.51 1025.94 L139.56 1033.24 L133.84 1040.72 L128.35 1048.35 L123.1 1056.14 L118.09 1064.08 L113.34 1072.16 L108.83 1080.37" stroke="#38d838" stroke-width="1.4" fill="none"/>
<path d="M344.66 875.99 L333.96 877.6 L323.31 879.51 L312.72 881.73 L302.21 884.26 L291.78 887.09 L281.45 890.22 L271.22 893.65 L261.1 897.38 L251.09 901.39 L241.22 905.69 L231.49 910.28 L221.9 915.15 L212.47 920.29 L203.2 925.7 L194.11 931.38 L185.19 937.32 L176.47 943.51 L167.94 949.96 L159.61 956.65 L151.5 963.57 L143.61 970.73 L135.94 978.11 L128.5 985.71 L121.31 993.53 L114.36 1001.55 L107.66 1009.76" stroke="#38d838" stroke-width="1.4" fill="none"/>
<path d="M291.93 846.83 L280.34 849.98 L268.86 853.46 L257.49 857.27 L246.24 861.41 L235.13 865.87 L224.16 870.65 L213.35 875.75 L202.7 881.15 L192.22 886.87 L181.92 892.88 L171.81 899.19 L161.91 905.79 L152.21 912.67 L142.74 919.83 L133.49 927.26 L124.47 934.96 L115.7 942.91 L107.18 951.11" stroke="#38d838" stroke-width="1.4" fill="none"/>
<rect x="392.4" y="1172.25" width="24.64" height="22.69" fill="#fff"/>
<text x="0" y="0" font-size="20.5" text-anchor="middle" transform="translate(404.72 1191.87) scale(0.94 1.045)">10</text>
<rect x="397.66" y="1133.72" width="24.64" height="22.69" fill="#fff"/>
<text x="0" y="0" font-size="20.5" text-anchor="middle" transform="translate(409.98 1153.34) scale(0.94 1.045)">20</text>
<rect x="394.55" y="1094.19" width="24.64" height="22.69" fill="#fff"/>
<text x="0" y="0" font-size="20.5" text-anchor="middle" transform="translate(406.87 1113.81) scale(0.94 1.045)">30</text>
<rect x="384.17" y="1054.88" width="24.64" height="22.69" fill="#fff"/>
<text x="0" y="0" font-size="20.5" text-anchor="middle" transform="translate(396.49 1074.51) scale(0.94 1.045)">40</text>
<rect x="366.57" y="1016.76" width="24.64" height="22.69" fill="#fff"/>
<text x="0" y="0" font-size="20.5" text-anchor="middle" transform="translate(378.89 1036.38) scale(0.94 1.045)">50</text>
<rect x="349.04" y="979.68" width="24.64" height="22.69" fill="#fff"/>
<text x="0" y="0" font-size="20.5" text-anchor="middle" transform="translate(361.36 999.3) scale(0.94 1.045)">60</text>
<rect x="318.63" y="945.8" width="24.64" height="22.69" fill="#fff"/>
<text x="0" y="0" font-size="20.5" text-anchor="middle" transform="translate(330.95 965.43) scale(0.94 1.045)">70</text>
<rect x="281.72" y="915.64" width="24.64" height="22.69" fill="#fff"/>
<text x="0" y="0" font-size="20.5" text-anchor="middle" transform="translate(294.04 935.26) scale(0.94 1.045)">80</text>
<rect x="238.77" y="890.05" width="24.64" height="22.69" fill="#fff"/>
<text x="0" y="0" font-size="20.5" text-anchor="middle" transform="translate(251.09 909.67) scale(0.94 1.045)">90</text>
<rect x="184.21" y="869.81" width="36.96" height="22.69" fill="#fff"/>
<text x="0" y="0" font-size="20.5" text-anchor="middle" transform="translate(202.7 889.43) scale(0.94 1.045)">100</text>
<path d="M107.1 804.67L107.1 1221.1L538.59 1221.1" stroke="#333340" stroke-width="1.5" fill="none"/>
<path d="M107.1 1221.1L107.1 1233.5M107.1 1221.1L94.7 1221.1M187.34 1221.1L187.34 1233.5M107.1 1143.66L94.7 1143.66M267.58 1221.1L267.58 1233.5M107.1 1066.22L94.7 1066.22M347.82 1221.1L347.82 1233.5M107.1 988.78L94.7 988.78M428.06 1221.1L428.06 1233.5M107.1 911.34L94.7 911.34M508.3 1221.1L508.3 1233.5M107.1 833.9L94.7 833.9" stroke="#333340" stroke-width="1.5" fill="none"/>
<text x="0" y="0" font-size="20.8" text-anchor="middle" transform="translate(106.1 1264.7) scale(0.94 1.045)">0</text>
<text x="0" y="0" font-size="20.8" text-anchor="middle" transform="translate(80.8 1221.1) scale(1 0.98) rotate(-90)">0</text>
<text x="0" y="0" font-size="20.8" text-anchor="middle" transform="translate(186.34 1264.7) scale(0.94 1.045)">20</text>
<text x="0" y="0" font-size="20.8" text-anchor="middle" transform="translate(80.8 1143.66) scale(1 0.98) rotate(-90)">20</text>
<text x="0" y="0" font-size="20.8" text-anchor="middle" transform="translate(266.58 1264.7) scale(0.94 1.045)">40</text>
<text x="0" y="0" font-size="20.8" text-anchor="middle" transform="translate(80.8 1066.22) scale(1 0.98) rotate(-90)">40</text>
<text x="0" y="0" font-size="20.8" text-anchor="middle" transform="translate(346.82 1264.7) scale(0.94 1.045)">60</text>
<text x="0" y="0" font-size="20.8" text-anchor="middle" transform="translate(80.8 988.78) scale(1 0.98) rotate(-90)">60</text>
<text x="0" y="0" font-size="20.8" text-anchor="middle" transform="translate(427.06 1264.7) scale(0.94 1.045)">80</text>
<text x="0" y="0" font-size="20.8" text-anchor="middle" transform="translate(80.8 911.34) scale(1 0.98) rotate(-90)">80</text>
<text x="0" y="0" font-size="20.8" text-anchor="middle" transform="translate(507.3 1264.7) scale(0.94 1.045)">100</text>
<text x="0" y="0" font-size="20.8" text-anchor="middle" transform="translate(80.8 833.9) scale(1 0.98) rotate(-90)">100</text>
<path d="M538.59 1221.1 L538.57 1216.94 L538.5 1212.77 L538.4 1208.61 L538.25 1204.45 L538.05 1200.29 L537.81 1196.13 L537.53 1191.97 L537.21 1187.82 L536.84 1183.67 L536.43 1179.53 L535.98 1175.38 L535.49 1171.25 L534.95 1167.12 L534.37 1162.99 L533.75 1158.87 L533.08 1154.75 L532.37 1150.65 L531.62 1146.55 L530.83 1142.45 L529.99 1138.37 L529.11 1134.29 L528.19 1130.22 L527.23 1126.16 L526.22 1122.11 L525.18 1118.07 L524.09 1114.04 L522.96 1110.02 L521.79 1106.02 L520.57 1102.02 L519.32 1098.04 L518.02 1094.06 L516.69 1090.1 L515.31 1086.16 L513.89 1082.22 L512.43 1078.31 L510.93 1074.4 L509.39 1070.51 L507.81 1066.64 L506.19 1062.78 L504.53 1058.93 L502.83 1055.11 L501.09 1051.29 L499.31 1047.5 L497.49 1043.72 L495.63 1039.97 L493.74 1036.23 L491.8 1032.5 L489.83 1028.8 L487.82 1025.12 L485.77 1021.45 L483.68 1017.81 L481.56 1014.18 L479.39 1010.58 L477.19 1007 L474.96 1003.44 L472.68 999.9 L470.37 996.38 L468.03 992.88 L465.64 989.41 L463.22 985.96 L460.77 982.54 L458.28 979.14 L455.76 975.76 L453.2 972.41 L450.6 969.08 L447.97 965.78 L445.31 962.5 L442.62 959.25 L439.89 956.02 L437.12 952.83 L434.33 949.65 L431.5 946.51 L428.64 943.39 L425.74 940.3 L422.82 937.24 L419.86 934.21 L416.87 931.21 L413.85 928.23 L410.8 925.29 L407.72 922.37 L404.61 919.48 L401.47 916.63 L398.3 913.8 L395.1 911.01 L391.88 908.24 L388.62 905.51 L385.34 902.81 L382.02 900.14 L378.69 897.5 L375.32 894.9 L371.93 892.32 L368.51 889.78 L365.06 887.28 L361.59 884.81 L358.09 882.37 L354.57 879.96 L351.02 877.59 L347.45 875.25 L343.85 872.95 L340.24 870.68 L336.59 868.45 L332.93 866.25 L329.24 864.09 L325.53 861.97 L321.8 859.88 L318.04 857.82 L314.27 855.8 L310.47 853.82 L306.66 851.88 L302.82 849.97 L298.97 848.1 L295.09 846.27 L291.2 844.47 L287.29 842.71 L283.36 840.99 L279.41 839.31 L275.45 837.67 L271.47 836.06 L267.47 834.5 L263.45 832.97 L259.42 831.48 L255.38 830.03 L251.32 828.62 L247.25 827.24 L243.16 825.91 L239.06 824.62 L234.94 823.36 L230.81 822.15 L226.68 820.98 L222.52 819.84 L218.36 818.75 L214.19 817.69 L210 816.68 L205.8 815.71 L201.6 814.78 L197.38 813.88 L193.16 813.03 L188.93 812.22 L184.69 811.45 L180.44 810.73 L176.18 810.04 L171.92 809.39 L167.65 808.79 L163.38 808.22 L159.1 807.7 L154.81 807.22 L150.52 806.78 L146.22 806.38 L141.92 806.02 L137.62 805.71 L133.32 805.44 L129.01 805.2 L124.7 805.01 L120.39 804.86 L116.07 804.76 L111.76 804.69 L107.44 804.67" stroke="#1a1a1a" stroke-width="1.1" fill="none"/>
<path d="M394.76 1221.1 L394.75 1218.32 L394.7 1215.55 L394.63 1212.77 L394.53 1210 L394.4 1207.22 L394.24 1204.45 L394.06 1201.68 L393.84 1198.91 L393.6 1196.15 L393.32 1193.38 L393.02 1190.62 L392.69 1187.87 L392.33 1185.11 L391.95 1182.36 L391.53 1179.61 L391.09 1176.87 L390.61 1174.13 L390.11 1171.4 L389.58 1168.67 L389.03 1165.94 L388.44 1163.23 L387.83 1160.51 L387.19 1157.81 L386.52 1155.11 L385.82 1152.42 L385.09 1149.73 L384.34 1147.05 L383.56 1144.38 L382.75 1141.71 L381.91 1139.06 L381.05 1136.41 L380.16 1133.77 L379.24 1131.14 L378.29 1128.52 L377.32 1125.9 L376.32 1123.3 L375.29 1120.71 L374.24 1118.12 L373.16 1115.55 L372.05 1112.99 L370.92 1110.44 L369.76 1107.9 L368.57 1105.37 L367.36 1102.85 L366.12 1100.34 L364.86 1097.85 L363.57 1095.37 L362.25 1092.9 L360.91 1090.44 L359.55 1088 L358.15 1085.57 L356.74 1083.15 L355.3 1080.75 L353.83 1078.36 L352.34 1075.99 L350.82 1073.63 L349.28 1071.29 L347.72 1068.96 L346.13 1066.64 L344.52 1064.34 L342.88 1062.06 L341.22 1059.79 L339.54 1057.54 L337.83 1055.31 L336.1 1053.09 L334.35 1050.89 L332.57 1048.7 L330.78 1046.53 L328.96 1044.38 L327.11 1042.25 L325.25 1040.14 L323.36 1038.04 L321.46 1035.96 L319.53 1033.9 L317.58 1031.86 L315.61 1029.84 L313.61 1027.84 L311.6 1025.85 L309.57 1023.89 L307.51 1021.95 L305.44 1020.02 L303.35 1018.12 L301.24 1016.23 L299.1 1014.37 L296.95 1012.53 L294.78 1010.71 L292.59 1008.91 L290.38 1007.13 L288.16 1005.37 L285.91 1003.63 L283.65 1001.92 L281.37 1000.22 L279.07 998.55 L276.76 996.9 L274.43 995.28 L272.08 993.67 L269.71 992.09 L267.33 990.54 L264.94 989 L262.52 987.49 L260.1 986 L257.65 984.54 L255.19 983.09 L252.72 981.68 L250.23 980.28 L247.73 978.91 L245.21 977.57 L242.68 976.25 L240.14 974.95 L237.58 973.68 L235.01 972.43 L232.43 971.21 L229.83 970.01 L227.23 968.84 L224.61 967.7 L221.97 966.57 L219.33 965.48 L216.68 964.41 L214.01 963.36 L211.34 962.35 L208.65 961.35 L205.95 960.38 L203.25 959.44 L200.53 958.53 L197.81 957.64 L195.07 956.78 L192.33 955.94 L189.58 955.13 L186.82 954.35 L184.05 953.59 L181.27 952.87 L178.49 952.16 L175.7 951.49 L172.9 950.84 L170.1 950.22 L167.29 949.62 L164.47 949.06 L161.65 948.52 L158.83 948 L155.99 947.52 L153.16 947.06 L150.31 946.63 L147.47 946.22 L144.62 945.85 L141.76 945.5 L138.91 945.18 L136.05 944.89 L133.18 944.62 L130.32 944.38 L127.45 944.17 L124.58 943.99 L121.71 943.84 L118.83 943.71 L115.96 943.61 L113.08 943.54 L110.21 943.49 L107.33 943.48 L107.1 943.48" stroke="#1a1a1a" stroke-width="1.1" fill="none"/>
<path d="M150.25 806.75L148.95 819.18M193.4 813.08L190.81 825.32M236.55 823.85L232.66 835.77M279.7 839.43L274.52 850.88M322.85 860.46L316.37 871.28M365.99 887.95L358.23 897.95M409.14 923.71L400.08 932.63M452.29 971.24L441.94 978.74M495.44 1039.58L483.79 1045.03M128.67 805.19L128.24 813.51M171.82 809.38L170.53 817.61M214.97 817.89L212.82 825.95M258.12 831.01L255.1 838.81M301.27 849.21L297.39 856.65M344.42 873.31L339.67 880.27M387.57 904.64L381.96 910.97M430.72 945.66L424.25 951.16M473.87 1001.73L466.53 1006.12M517.02 1091.07L508.82 1093.67M499.76 1048.44L495.83 1050.17M504.07 1057.89L500.1 1059.52M508.39 1068.04L504.37 1069.57M512.7 1079.02L508.65 1080.44M517.02 1091.07L512.92 1092.37M521.33 1104.5L517.19 1105.66M525.65 1119.86L521.46 1120.88M529.96 1138.23L525.73 1139.06M534.28 1162.35L530 1162.94" stroke="#1a1a1a" stroke-width="1.1" fill="none"/>
<circle cx="394.76" cy="1221.1" r="4.3" stroke="#1a1a1a" stroke-width="1.3" fill="none"/>
<text x="0" y="0" font-size="20.7" text-anchor="middle" transform="translate(150.91 795.88) scale(0.94 1.045)">0.1</text>
<text x="0" y="0" font-size="20.7" text-anchor="middle" transform="translate(196.21 802.53) scale(0.94 1.045)">0.2</text>
<text x="0" y="0" font-size="20.7" text-anchor="middle" transform="translate(241.52 813.83) scale(0.94 1.045)">0.3</text>
<text x="0" y="0" font-size="20.7" text-anchor="middle" transform="translate(286.83 830.2) scale(0.94 1.045)">0.4</text>
<text x="0" y="0" font-size="20.7" text-anchor="middle" transform="translate(332.13 852.27) scale(0.94 1.045)">0.5</text>
<text x="0" y="0" font-size="20.7" text-anchor="middle" transform="translate(377.44 881.14) scale(0.94 1.045)">0.6</text>
<text x="0" y="0" font-size="20.7" text-anchor="middle" transform="translate(422.75 918.69) scale(0.94 1.045)">0.7</text>
<text x="0" y="0" font-size="20.7" text-anchor="middle" transform="translate(468.05 968.6) scale(0.94 1.045)">0.8</text>
<text x="0" y="0" font-size="20.7" text-anchor="middle" transform="translate(513.36 1040.35) scale(0.94 1.045)">0.9</text>
<text x="0" y="0" font-size="20.7" text-anchor="middle" transform="translate(536.01 1094.42) scale(0.94 1.045)">0.95</text>
<text x="0" y="0" font-size="20.7" text-anchor="middle" transform="translate(554.13 1169.27) scale(0.94 1.045)">0.99</text>
<text x="0" y="0" font-size="20.8" text-anchor="middle" transform="translate(451.29 888.45) scale(0.955 1.055) rotate(45)" dominant-baseline="central">Correlation</text>
<circle cx="264.2" cy="1097.8" r="3.15" fill="#8b1000"/>
<circle cx="255" cy="1107" r="3.15" fill="#178a2c"/>
<circle cx="276.8" cy="1129.3" r="3.15" fill="#0b0b72"/>
<circle cx="293.3" cy="1129.3" r="3.15" fill="#f0a032"/>
<path d="M313.74 1126.4L324.87 1126.4M319.3 1120.84L319.3 1131.97M315.29 1122.39L323.31 1130.41M315.29 1130.41L323.31 1122.39" stroke="#8b1000" stroke-width="1.4" fill="none"/>
<path d="M331 1123.61L335.94 1131.59L326.06 1131.59Z" fill="#8b1000"/>
<path d="M336.8 1128.61L341.74 1136.59L331.87 1136.59Z" fill="#178a2c"/>
<path d="M335.33 1128.7L346.46 1128.7M340.9 1123.13L340.9 1134.27M336.89 1124.69L344.91 1132.71M336.89 1132.71L344.91 1124.69" stroke="#178a2c" stroke-width="1.4" fill="none"/>
<path d="M345.94 1141.7L357.06 1141.7M351.5 1136.13L351.5 1147.27M347.49 1137.69L355.51 1145.71M347.49 1145.71L355.51 1137.69" stroke="#0b0b72" stroke-width="1.4" fill="none"/>
<path d="M352.6 1143.01L357.54 1150.99L347.67 1150.99Z" fill="#0b0b72"/>
<path d="M344.13 1155.5L355.26 1155.5M349.7 1149.93L349.7 1161.07M345.69 1151.49L353.71 1159.51M345.69 1159.51L353.71 1151.49" stroke="#f0a032" stroke-width="1.4" fill="none"/>
<path d="M355.5 1156.21L360.44 1164.19L350.56 1164.19Z" fill="#f0a032"/>
<text x="305.9" y="45.6" font-size="25.5" text-anchor="middle" textLength="97" lengthAdjust="spacingAndGlyphs">Training</text>
<text x="302.1" y="735.9" font-size="25.5" text-anchor="middle" textLength="81" lengthAdjust="spacingAndGlyphs">Testing</text>
<text x="321.5" y="617.1" font-size="19.4" text-anchor="middle" textLength="160" lengthAdjust="spacingAndGlyphs">Standard deviation</text>
<text x="322.3" y="1312.1" font-size="18.8" text-anchor="middle" textLength="152.5" lengthAdjust="spacingAndGlyphs">Standard deviation</text>
<text x="0" y="0" font-size="20.3" text-anchor="middle" textLength="164.5" lengthAdjust="spacingAndGlyphs" transform="translate(16.9 322.3) rotate(-90)">Standard deviation</text>
<text x="0" y="0" font-size="20.3" text-anchor="middle" textLength="167" lengthAdjust="spacingAndGlyphs" transform="translate(37.7 1012.9) rotate(-90)">Standard deviation</text>
<text x="310.4" y="665.5" font-size="34" text-anchor="middle" font-weight="bold">(a)</text>
<text x="310.3" y="1357.5" font-size="34" text-anchor="middle" font-weight="bold">(b)</text>
<rect x="520.2" y="2.6" width="161.6" height="301.9" fill="none" stroke="#1a1a1a" stroke-width="1.4"/>
<path d="M528.87 26L538.93 26M533.9 20.96L533.9 31.03M530.27 22.37L537.53 29.63M530.27 29.63L537.53 22.37" stroke="#0b0b72" stroke-width="1.4" fill="none"/>
<text x="547" y="32.8" font-size="16.5" text-anchor="start" font-weight="bold" textLength="129.5" lengthAdjust="spacingAndGlyphs">PSO_ELM (80-20)</text>
<path d="M533.9 45.25L538.37 52.47L529.43 52.47Z" fill="#0b0b72"/>
<text x="547" y="56.06" font-size="16.5" text-anchor="start" font-weight="bold" textLength="129.5" lengthAdjust="spacingAndGlyphs">BBO_ELM (80-20)</text>
<circle cx="533.9" cy="72.32" r="2.55" fill="#0b0b72"/>
<text x="547" y="79.32" font-size="16.5" text-anchor="start" font-weight="bold" textLength="86.5" lengthAdjust="spacingAndGlyphs">ELM (80-20)</text>
<path d="M528.87 95.78L538.93 95.78M533.9 90.75L533.9 100.81M530.27 92.15L537.53 99.41M530.27 99.41L537.53 92.15" stroke="#8b1000" stroke-width="1.4" fill="none"/>
<text x="547" y="102.58" font-size="16.5" text-anchor="start" font-weight="bold" textLength="129.5" lengthAdjust="spacingAndGlyphs">PSO_ELM (70-30)</text>
<path d="M533.9 115.03L538.37 122.25L529.43 122.25Z" fill="#8b1000"/>
<text x="547" y="125.84" font-size="16.5" text-anchor="start" font-weight="bold" textLength="129.5" lengthAdjust="spacingAndGlyphs">BBO_ELM (70-30)</text>
<circle cx="533.9" cy="142.1" r="2.55" fill="#8b1000"/>
<text x="547" y="149.1" font-size="16.5" text-anchor="start" font-weight="bold" textLength="86.5" lengthAdjust="spacingAndGlyphs">ELM (70-30)</text>
<path d="M528.87 165.56L538.93 165.56M533.9 160.53L533.9 170.59M530.27 161.93L537.53 169.19M530.27 169.19L537.53 161.93" stroke="#178a2c" stroke-width="1.4" fill="none"/>
<text x="547" y="172.36" font-size="16.5" text-anchor="start" font-weight="bold" textLength="129.5" lengthAdjust="spacingAndGlyphs">PSO_ELM (60-40)</text>
<path d="M533.9 184.81L538.37 192.03L529.43 192.03Z" fill="#178a2c"/>
<text x="547" y="195.62" font-size="16.5" text-anchor="start" font-weight="bold" textLength="129.5" lengthAdjust="spacingAndGlyphs">BBO_ELM (60-40)</text>
<circle cx="533.9" cy="211.88" r="2.55" fill="#178a2c"/>
<text x="547" y="218.88" font-size="16.5" text-anchor="start" font-weight="bold" textLength="86.5" lengthAdjust="spacingAndGlyphs">ELM (60-40)</text>
<path d="M528.87 235.34L538.93 235.34M533.9 230.3L533.9 240.37M530.27 231.71L537.53 238.97M530.27 238.97L537.53 231.71" stroke="#f0a032" stroke-width="1.4" fill="none"/>
<text x="547" y="242.14" font-size="16.5" text-anchor="start" font-weight="bold" textLength="129.5" lengthAdjust="spacingAndGlyphs">PSO_ELM (90-10)</text>
<path d="M533.9 254.59L538.37 261.81L529.43 261.81Z" fill="#f0a032"/>
<text x="547" y="265.4" font-size="16.5" text-anchor="start" font-weight="bold" textLength="129.5" lengthAdjust="spacingAndGlyphs">BBO_ELM (90-10)</text>
<circle cx="533.9" cy="281.66" r="2.55" fill="#f0a032"/>
<text x="547" y="288.66" font-size="16.5" text-anchor="start" font-weight="bold" textLength="86.5" lengthAdjust="spacingAndGlyphs">ELM (90-10)</text>
<rect x="508.1" y="698.4" width="150.3" height="307.6" fill="none" stroke="#1a1a1a" stroke-width="1.4"/>
<path d="M515.47 723.1L525.53 723.1M520.5 718.07L520.5 728.13M516.87 719.47L524.13 726.73M516.87 726.73L524.13 719.47" stroke="#0b0b72" stroke-width="1.4" fill="none"/>
<text x="532.5" y="729.9" font-size="16" text-anchor="start" font-weight="bold" textLength="123" lengthAdjust="spacingAndGlyphs">PSO_ELM (80-20)</text>
<path d="M520.5 742.64L524.97 749.86L516.03 749.86Z" fill="#0b0b72"/>
<text x="532.5" y="753.45" font-size="16" text-anchor="start" font-weight="bold" textLength="123" lengthAdjust="spacingAndGlyphs">BBO_ELM (80-20)</text>
<circle cx="520.5" cy="770" r="2.55" fill="#0b0b72"/>
<text x="532.5" y="777" font-size="16" text-anchor="start" font-weight="bold" textLength="82.5" lengthAdjust="spacingAndGlyphs">ELM (80-20)</text>
<path d="M515.47 793.75L525.53 793.75M520.5 788.72L520.5 798.78M516.87 790.12L524.13 797.38M516.87 797.38L524.13 790.12" stroke="#8b1000" stroke-width="1.4" fill="none"/>
<text x="532.5" y="800.55" font-size="16" text-anchor="start" font-weight="bold" textLength="123" lengthAdjust="spacingAndGlyphs">PSO_ELM (70-30)</text>
<path d="M520.5 813.29L524.97 820.51L516.03 820.51Z" fill="#8b1000"/>
<text x="532.5" y="824.1" font-size="16" text-anchor="start" font-weight="bold" textLength="123" lengthAdjust="spacingAndGlyphs">BBO_ELM (70-30)</text>
<circle cx="520.5" cy="840.65" r="2.55" fill="#8b1000"/>
<text x="532.5" y="847.65" font-size="16" text-anchor="start" font-weight="bold" textLength="82.5" lengthAdjust="spacingAndGlyphs">ELM (70-30)</text>
<path d="M515.47 864.4L525.53 864.4M520.5 859.37L520.5 869.44M516.87 860.77L524.13 868.03M516.87 868.03L524.13 860.77" stroke="#178a2c" stroke-width="1.4" fill="none"/>
<text x="532.5" y="871.2" font-size="16" text-anchor="start" font-weight="bold" textLength="123" lengthAdjust="spacingAndGlyphs">PSO_ELM (60-40)</text>
<path d="M520.5 883.94L524.97 891.16L516.03 891.16Z" fill="#178a2c"/>
<text x="532.5" y="894.75" font-size="16" text-anchor="start" font-weight="bold" textLength="123" lengthAdjust="spacingAndGlyphs">BBO_ELM (60-40)</text>
<circle cx="520.5" cy="911.3" r="2.55" fill="#178a2c"/>
<text x="532.5" y="918.3" font-size="16" text-anchor="start" font-weight="bold" textLength="82.5" lengthAdjust="spacingAndGlyphs">ELM (60-40)</text>
<path d="M515.47 935.05L525.53 935.05M520.5 930.02L520.5 940.09M516.87 931.42L524.13 938.68M516.87 938.68L524.13 931.42" stroke="#f0a032" stroke-width="1.4" fill="none"/>
<text x="532.5" y="941.85" font-size="16" text-anchor="start" font-weight="bold" textLength="123" lengthAdjust="spacingAndGlyphs">PSO_ELM (90-10)</text>
<path d="M520.5 954.59L524.97 961.81L516.03 961.81Z" fill="#f0a032"/>
<text x="532.5" y="965.4" font-size="16" text-anchor="start" font-weight="bold" textLength="123" lengthAdjust="spacingAndGlyphs">BBO_ELM (90-10)</text>
<circle cx="520.5" cy="981.95" r="2.55" fill="#f0a032"/>
<text x="532.5" y="988.95" font-size="16" text-anchor="start" font-weight="bold" textLength="82.5" lengthAdjust="spacingAndGlyphs">ELM (90-10)</text>
</svg>
</body></html>
